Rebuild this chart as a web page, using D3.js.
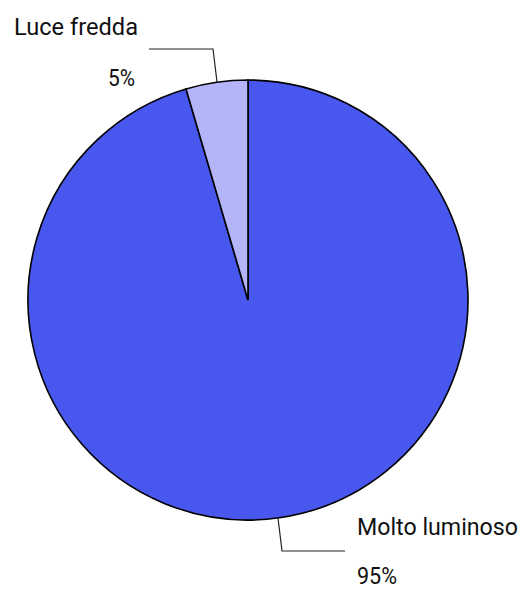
<!DOCTYPE html>
<html><head><meta charset="utf-8">
<script src="https://cdn.jsdelivr.net/npm/d3@7"></script>
<style>body{margin:0;background:#fff}svg{display:block}text{font-family:Roboto,"Noto Sans",sans-serif;fill:#111}</style>
</head><body>
<svg id="c" width="523" height="590"></svg>
<script>
const categories = ["Molto luminoso", "Luce fredda"];
const values = [21, 1];
const percentLabels = ["95%", "5%"];
const colors = ["#4858ef", "#b3b5f8"];

const svg = d3.select("#c");
const cx = 248, cy = 300, r = 220;
const g = svg.append("g").attr("transform", `translate(${cx},${cy})`);
const pie = d3.pie().sort(null).value(d => d)(values);
const arc = d3.arc().innerRadius(0).outerRadius(r);

g.selectAll("path.slice").data(pie).join("path")
  .attr("class", "slice")
  .attr("d", arc)
  .attr("fill", (d, i) => colors[i])
  .attr("stroke", "#000").attr("stroke-width", 1.6).attr("stroke-linejoin", "miter");

// leader lines and labels
const leaders = [
  {pts: [[278, 518], [282, 551], [345, 551]], name: [357, 535, 161], pct: [357, 584, 40]},
  {pts: [[217, 82], [213, 49], [149, 49]], name: [14, 35, 124], pct: [108, 86, 27]}
];
pie.forEach((d, i) => {
  const L = leaders[i];
  svg.append("path").attr("d", d3.line()(L.pts)).attr("fill", "none").attr("stroke", "#222").attr("stroke-width", 1.2);
  svg.append("text").attr("x", L.name[0]).attr("y", L.name[1]).attr("font-size", 23.5)
    .attr("textLength", L.name[2]).attr("lengthAdjust", "spacingAndGlyphs").text(categories[i]);
  svg.append("text").attr("x", L.pct[0]).attr("y", L.pct[1]).attr("font-size", 23)
    .attr("textLength", L.pct[2]).attr("lengthAdjust", "spacingAndGlyphs").text(percentLabels[i]);
});
</script>
</body></html>
